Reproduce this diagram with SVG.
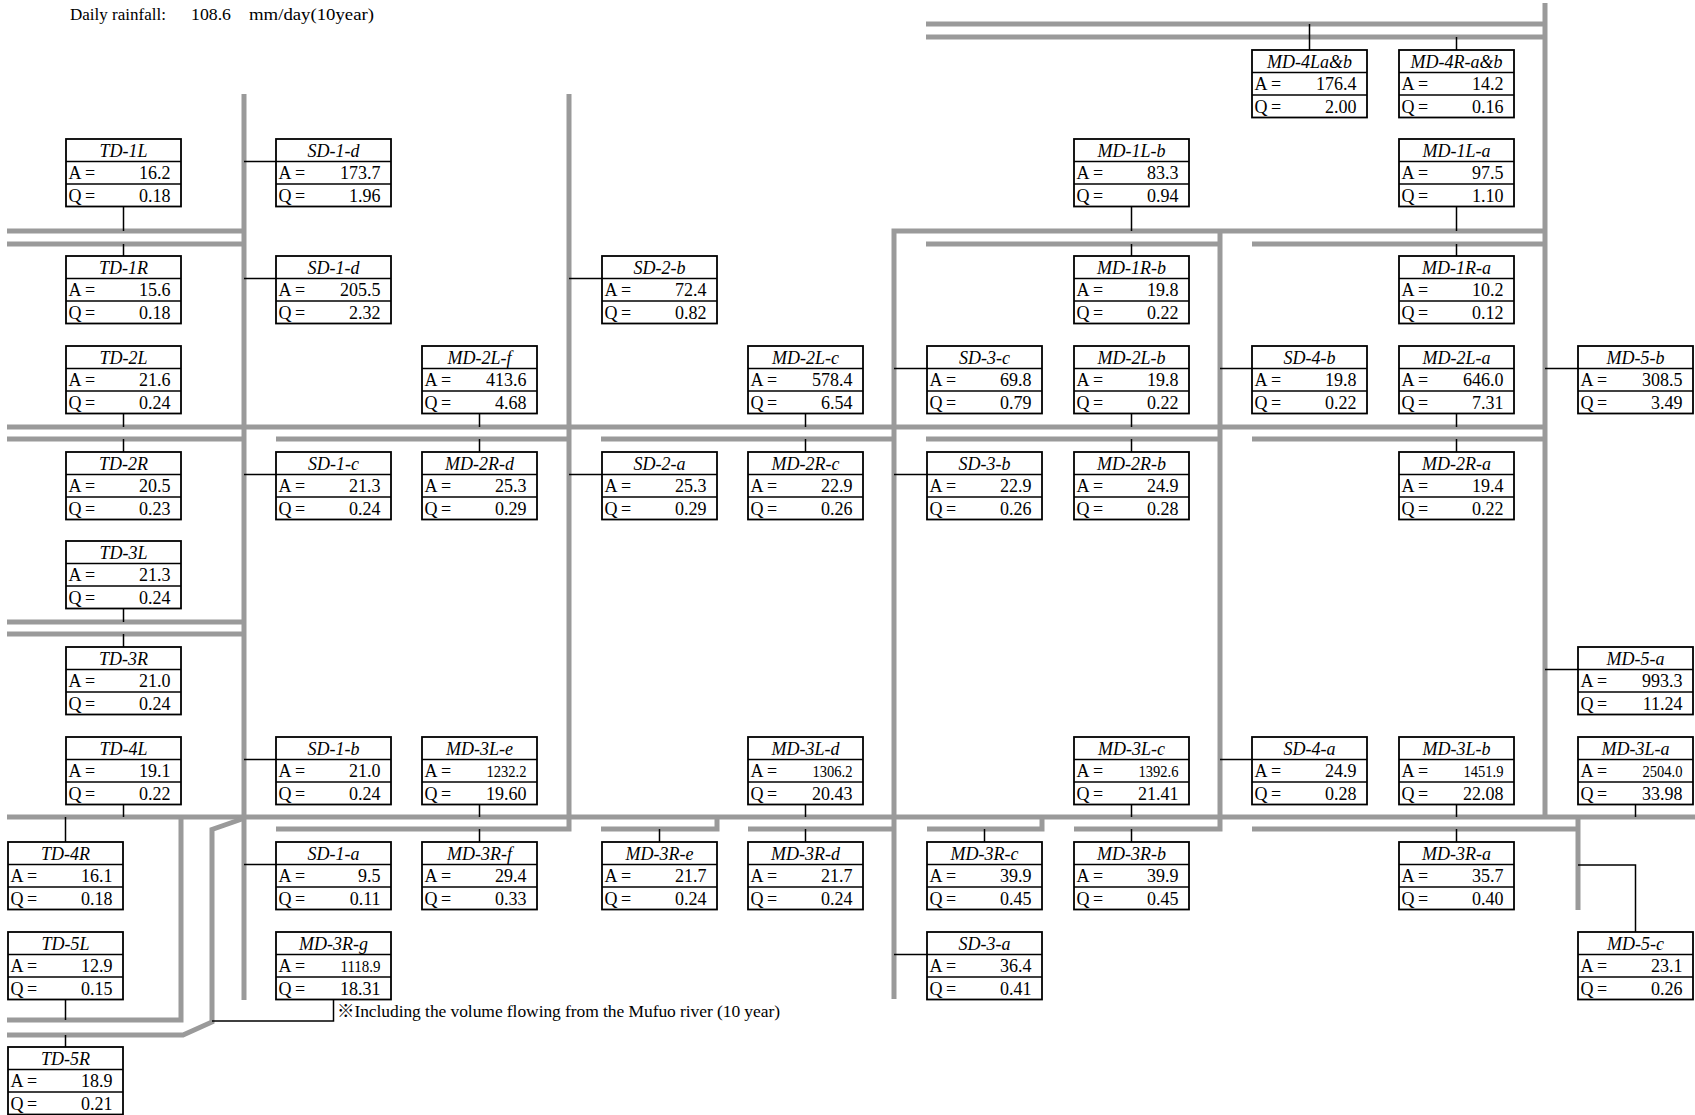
<svg xmlns="http://www.w3.org/2000/svg" xmlns:xlink="http://www.w3.org/1999/xlink" width="1695" height="1115" viewBox="0 0 1695 1115">
<style>
text{font-family:"Liberation Serif","Times New Roman","Noto Sans CJK JP",serif;fill:#000}
.h{font-size:18px;font-style:italic;text-anchor:middle}
.l{font-size:18px}
.v{font-size:18px;text-anchor:end}
.s{font-size:16px;text-anchor:end}
.t{font-size:17.5px}
.gray{fill:none;stroke:#9a9a9a;stroke-width:5;stroke-linejoin:miter;stroke-linecap:butt}
.conn{fill:none;stroke:#000;stroke-width:1.5}
.frame rect{fill:#fff;stroke:#000;stroke-width:1.8}
.frame line{stroke:#000;stroke-width:1.6}
</style>
<defs>
<g id="box" class="frame"><rect x="0" y="0" width="115" height="67.5"/><line x1="0" y1="22.5" x2="115" y2="22.5"/><line x1="0" y1="45" x2="115" y2="45"/></g>
</defs>
<rect width="1695" height="1115" fill="#fff"/>
<g id="title">
<text class="t" x="70" y="19.5" textLength="96" lengthAdjust="spacingAndGlyphs">Daily rainfall:</text>
<text class="t" x="191" y="19.5" textLength="40" lengthAdjust="spacingAndGlyphs">108.6</text>
<text class="t" x="249" y="19.5" textLength="125" lengthAdjust="spacingAndGlyphs">mm/day(10year)</text>
</g>
<g id="connectors">
<g class="gray">
<path d="M926,24H1545M926,37H1545M1545,3V817"/>
<path d="M244,94V1000M569,94V829H276"/>
<path d="M7,231H244M7,244H244"/>
<path d="M894,999V231H1545M926,244H1220M1220,231V829H1074M1252,244H1545"/>
<path d="M7,427H1545"/>
<path d="M7,439H244M276,439H569M601,439H894M926,439H1220M1252,439H1545"/>
<path d="M7,622H244M7,634H244"/>
<path d="M7,817H1695"/>
<path d="M7,1020H181V817"/>
<path d="M242,819L212,829.5V1022L183,1035H7"/>
<path d="M601,829H717V817M748,829H894M927,829H1042V817M1252,829H1578M1578,817V910"/>
</g>
<g class="conn">
<path d="M123.5,206.5V231M123.5,244V256M123.5,413.5V427M123.5,439V452M123.5,608.5V622M123.5,634V647M123.5,804.5V817"/>
<path d="M65.5,817V842M65.5,999.5V1020M65.5,1035V1047"/>
<path d="M244,161.5H276M244,278.5H276M244,474.5H276M244,759.5H276M244,864.5H276"/>
<path d="M333.5,999.5V1021H212"/>
<path d="M479.5,413.5V427M479.5,439V452M479.5,804.5V817M479.5,829V842"/>
<path d="M569,278.5H602M569,474.5H602M659.5,829V842"/>
<path d="M805.5,413.5V427M805.5,439V452M805.5,804.5V817M805.5,829V842"/>
<path d="M894,368.5H927M894,474.5H927M894,954.5H927M984.5,829V842"/>
<path d="M1131.5,206.5V231M1131.5,244V256M1131.5,413.5V427M1131.5,439V452M1131.5,804.5V817M1131.5,829V842"/>
<path d="M1309.5,24V50M1220,368.5H1252M1220,759.5H1252"/>
<path d="M1456.5,37V50M1456.5,206.5V231M1456.5,244V256M1456.5,413.5V427M1456.5,439V452M1456.5,804.5V817M1456.5,829V842"/>
<path d="M1545,368.5H1578M1545,669.5H1578M1635.5,804.5V817M1578,865H1635.5V932"/>
</g>
</g>
<g id="TD-1L" transform="translate(66,139)"><use xlink:href="#box"/><text class="h" x="57.5" y="17.5">TD-1L</text><text class="l" x="2.5" y="40">A =</text><text class="v" x="104.5" y="40">16.2</text><text class="l" x="2.5" y="62.5">Q<tspan x="19">=</tspan></text><text class="v" x="104.5" y="62.5">0.18</text></g>
<g id="TD-1R" transform="translate(66,256)"><use xlink:href="#box"/><text class="h" x="57.5" y="17.5">TD-1R</text><text class="l" x="2.5" y="40">A =</text><text class="v" x="104.5" y="40">15.6</text><text class="l" x="2.5" y="62.5">Q<tspan x="19">=</tspan></text><text class="v" x="104.5" y="62.5">0.18</text></g>
<g id="TD-2L" transform="translate(66,346)"><use xlink:href="#box"/><text class="h" x="57.5" y="17.5">TD-2L</text><text class="l" x="2.5" y="40">A =</text><text class="v" x="104.5" y="40">21.6</text><text class="l" x="2.5" y="62.5">Q<tspan x="19">=</tspan></text><text class="v" x="104.5" y="62.5">0.24</text></g>
<g id="TD-2R" transform="translate(66,452)"><use xlink:href="#box"/><text class="h" x="57.5" y="17.5">TD-2R</text><text class="l" x="2.5" y="40">A =</text><text class="v" x="104.5" y="40">20.5</text><text class="l" x="2.5" y="62.5">Q<tspan x="19">=</tspan></text><text class="v" x="104.5" y="62.5">0.23</text></g>
<g id="TD-3L" transform="translate(66,541)"><use xlink:href="#box"/><text class="h" x="57.5" y="17.5">TD-3L</text><text class="l" x="2.5" y="40">A =</text><text class="v" x="104.5" y="40">21.3</text><text class="l" x="2.5" y="62.5">Q<tspan x="19">=</tspan></text><text class="v" x="104.5" y="62.5">0.24</text></g>
<g id="TD-3R" transform="translate(66,647)"><use xlink:href="#box"/><text class="h" x="57.5" y="17.5">TD-3R</text><text class="l" x="2.5" y="40">A =</text><text class="v" x="104.5" y="40">21.0</text><text class="l" x="2.5" y="62.5">Q<tspan x="19">=</tspan></text><text class="v" x="104.5" y="62.5">0.24</text></g>
<g id="TD-4L" transform="translate(66,737)"><use xlink:href="#box"/><text class="h" x="57.5" y="17.5">TD-4L</text><text class="l" x="2.5" y="40">A =</text><text class="v" x="104.5" y="40">19.1</text><text class="l" x="2.5" y="62.5">Q<tspan x="19">=</tspan></text><text class="v" x="104.5" y="62.5">0.22</text></g>
<g id="TD-4R" transform="translate(8,842)"><use xlink:href="#box"/><text class="h" x="57.5" y="17.5">TD-4R</text><text class="l" x="2.5" y="40">A =</text><text class="v" x="104.5" y="40">16.1</text><text class="l" x="2.5" y="62.5">Q<tspan x="19">=</tspan></text><text class="v" x="104.5" y="62.5">0.18</text></g>
<g id="TD-5L" transform="translate(8,932)"><use xlink:href="#box"/><text class="h" x="57.5" y="17.5">TD-5L</text><text class="l" x="2.5" y="40">A =</text><text class="v" x="104.5" y="40">12.9</text><text class="l" x="2.5" y="62.5">Q<tspan x="19">=</tspan></text><text class="v" x="104.5" y="62.5">0.15</text></g>
<g id="TD-5R" transform="translate(8,1047)"><use xlink:href="#box"/><text class="h" x="57.5" y="17.5">TD-5R</text><text class="l" x="2.5" y="40">A =</text><text class="v" x="104.5" y="40">18.9</text><text class="l" x="2.5" y="62.5">Q<tspan x="19">=</tspan></text><text class="v" x="104.5" y="62.5">0.21</text></g>
<g id="SD-1-d-1" transform="translate(276,139)"><use xlink:href="#box"/><text class="h" x="57.5" y="17.5">SD-1-d</text><text class="l" x="2.5" y="40">A =</text><text class="v" x="104.5" y="40">173.7</text><text class="l" x="2.5" y="62.5">Q<tspan x="19">=</tspan></text><text class="v" x="104.5" y="62.5">1.96</text></g>
<g id="SD-1-d-2" transform="translate(276,256)"><use xlink:href="#box"/><text class="h" x="57.5" y="17.5">SD-1-d</text><text class="l" x="2.5" y="40">A =</text><text class="v" x="104.5" y="40">205.5</text><text class="l" x="2.5" y="62.5">Q<tspan x="19">=</tspan></text><text class="v" x="104.5" y="62.5">2.32</text></g>
<g id="SD-1-c" transform="translate(276,452)"><use xlink:href="#box"/><text class="h" x="57.5" y="17.5">SD-1-c</text><text class="l" x="2.5" y="40">A =</text><text class="v" x="104.5" y="40">21.3</text><text class="l" x="2.5" y="62.5">Q<tspan x="19">=</tspan></text><text class="v" x="104.5" y="62.5">0.24</text></g>
<g id="SD-1-b" transform="translate(276,737)"><use xlink:href="#box"/><text class="h" x="57.5" y="17.5">SD-1-b</text><text class="l" x="2.5" y="40">A =</text><text class="v" x="104.5" y="40">21.0</text><text class="l" x="2.5" y="62.5">Q<tspan x="19">=</tspan></text><text class="v" x="104.5" y="62.5">0.24</text></g>
<g id="SD-1-a" transform="translate(276,842)"><use xlink:href="#box"/><text class="h" x="57.5" y="17.5">SD-1-a</text><text class="l" x="2.5" y="40">A =</text><text class="v" x="104.5" y="40">9.5</text><text class="l" x="2.5" y="62.5">Q<tspan x="19">=</tspan></text><text class="v" x="104.5" y="62.5">0.11</text></g>
<g id="MD-3R-g" transform="translate(276,932)"><use xlink:href="#box"/><text class="h" x="57.5" y="17.5">MD-3R-g</text><text class="l" x="2.5" y="40">A =</text><text class="s" x="104.5" y="40" textLength="40" lengthAdjust="spacingAndGlyphs">1118.9</text><text class="l" x="2.5" y="62.5">Q<tspan x="19">=</tspan></text><text class="v" x="104.5" y="62.5">18.31</text></g>
<g id="MD-2L-f" transform="translate(422,346)"><use xlink:href="#box"/><text class="h" x="57.5" y="17.5">MD-2L-f</text><text class="l" x="2.5" y="40">A =</text><text class="v" x="104.5" y="40">413.6</text><text class="l" x="2.5" y="62.5">Q<tspan x="19">=</tspan></text><text class="v" x="104.5" y="62.5">4.68</text></g>
<g id="MD-2R-d" transform="translate(422,452)"><use xlink:href="#box"/><text class="h" x="57.5" y="17.5">MD-2R-d</text><text class="l" x="2.5" y="40">A =</text><text class="v" x="104.5" y="40">25.3</text><text class="l" x="2.5" y="62.5">Q<tspan x="19">=</tspan></text><text class="v" x="104.5" y="62.5">0.29</text></g>
<g id="MD-3L-e" transform="translate(422,737)"><use xlink:href="#box"/><text class="h" x="57.5" y="17.5">MD-3L-e</text><text class="l" x="2.5" y="40">A =</text><text class="s" x="104.5" y="40" textLength="40" lengthAdjust="spacingAndGlyphs">1232.2</text><text class="l" x="2.5" y="62.5">Q<tspan x="19">=</tspan></text><text class="v" x="104.5" y="62.5">19.60</text></g>
<g id="MD-3R-f" transform="translate(422,842)"><use xlink:href="#box"/><text class="h" x="57.5" y="17.5">MD-3R-f</text><text class="l" x="2.5" y="40">A =</text><text class="v" x="104.5" y="40">29.4</text><text class="l" x="2.5" y="62.5">Q<tspan x="19">=</tspan></text><text class="v" x="104.5" y="62.5">0.33</text></g>
<g id="SD-2-b" transform="translate(602,256)"><use xlink:href="#box"/><text class="h" x="57.5" y="17.5">SD-2-b</text><text class="l" x="2.5" y="40">A =</text><text class="v" x="104.5" y="40">72.4</text><text class="l" x="2.5" y="62.5">Q<tspan x="19">=</tspan></text><text class="v" x="104.5" y="62.5">0.82</text></g>
<g id="SD-2-a" transform="translate(602,452)"><use xlink:href="#box"/><text class="h" x="57.5" y="17.5">SD-2-a</text><text class="l" x="2.5" y="40">A =</text><text class="v" x="104.5" y="40">25.3</text><text class="l" x="2.5" y="62.5">Q<tspan x="19">=</tspan></text><text class="v" x="104.5" y="62.5">0.29</text></g>
<g id="MD-3R-e" transform="translate(602,842)"><use xlink:href="#box"/><text class="h" x="57.5" y="17.5">MD-3R-e</text><text class="l" x="2.5" y="40">A =</text><text class="v" x="104.5" y="40">21.7</text><text class="l" x="2.5" y="62.5">Q<tspan x="19">=</tspan></text><text class="v" x="104.5" y="62.5">0.24</text></g>
<g id="MD-2L-c" transform="translate(748,346)"><use xlink:href="#box"/><text class="h" x="57.5" y="17.5">MD-2L-c</text><text class="l" x="2.5" y="40">A =</text><text class="v" x="104.5" y="40">578.4</text><text class="l" x="2.5" y="62.5">Q<tspan x="19">=</tspan></text><text class="v" x="104.5" y="62.5">6.54</text></g>
<g id="MD-2R-c" transform="translate(748,452)"><use xlink:href="#box"/><text class="h" x="57.5" y="17.5">MD-2R-c</text><text class="l" x="2.5" y="40">A =</text><text class="v" x="104.5" y="40">22.9</text><text class="l" x="2.5" y="62.5">Q<tspan x="19">=</tspan></text><text class="v" x="104.5" y="62.5">0.26</text></g>
<g id="MD-3L-d" transform="translate(748,737)"><use xlink:href="#box"/><text class="h" x="57.5" y="17.5">MD-3L-d</text><text class="l" x="2.5" y="40">A =</text><text class="s" x="104.5" y="40" textLength="40" lengthAdjust="spacingAndGlyphs">1306.2</text><text class="l" x="2.5" y="62.5">Q<tspan x="19">=</tspan></text><text class="v" x="104.5" y="62.5">20.43</text></g>
<g id="MD-3R-d" transform="translate(748,842)"><use xlink:href="#box"/><text class="h" x="57.5" y="17.5">MD-3R-d</text><text class="l" x="2.5" y="40">A =</text><text class="v" x="104.5" y="40">21.7</text><text class="l" x="2.5" y="62.5">Q<tspan x="19">=</tspan></text><text class="v" x="104.5" y="62.5">0.24</text></g>
<g id="SD-3-c" transform="translate(927,346)"><use xlink:href="#box"/><text class="h" x="57.5" y="17.5">SD-3-c</text><text class="l" x="2.5" y="40">A =</text><text class="v" x="104.5" y="40">69.8</text><text class="l" x="2.5" y="62.5">Q<tspan x="19">=</tspan></text><text class="v" x="104.5" y="62.5">0.79</text></g>
<g id="SD-3-b" transform="translate(927,452)"><use xlink:href="#box"/><text class="h" x="57.5" y="17.5">SD-3-b</text><text class="l" x="2.5" y="40">A =</text><text class="v" x="104.5" y="40">22.9</text><text class="l" x="2.5" y="62.5">Q<tspan x="19">=</tspan></text><text class="v" x="104.5" y="62.5">0.26</text></g>
<g id="MD-3R-c" transform="translate(927,842)"><use xlink:href="#box"/><text class="h" x="57.5" y="17.5">MD-3R-c</text><text class="l" x="2.5" y="40">A =</text><text class="v" x="104.5" y="40">39.9</text><text class="l" x="2.5" y="62.5">Q<tspan x="19">=</tspan></text><text class="v" x="104.5" y="62.5">0.45</text></g>
<g id="SD-3-a" transform="translate(927,932)"><use xlink:href="#box"/><text class="h" x="57.5" y="17.5">SD-3-a</text><text class="l" x="2.5" y="40">A =</text><text class="v" x="104.5" y="40">36.4</text><text class="l" x="2.5" y="62.5">Q<tspan x="19">=</tspan></text><text class="v" x="104.5" y="62.5">0.41</text></g>
<g id="MD-1L-b" transform="translate(1074,139)"><use xlink:href="#box"/><text class="h" x="57.5" y="17.5">MD-1L-b</text><text class="l" x="2.5" y="40">A =</text><text class="v" x="104.5" y="40">83.3</text><text class="l" x="2.5" y="62.5">Q<tspan x="19">=</tspan></text><text class="v" x="104.5" y="62.5">0.94</text></g>
<g id="MD-1R-b" transform="translate(1074,256)"><use xlink:href="#box"/><text class="h" x="57.5" y="17.5">MD-1R-b</text><text class="l" x="2.5" y="40">A =</text><text class="v" x="104.5" y="40">19.8</text><text class="l" x="2.5" y="62.5">Q<tspan x="19">=</tspan></text><text class="v" x="104.5" y="62.5">0.22</text></g>
<g id="MD-2L-b" transform="translate(1074,346)"><use xlink:href="#box"/><text class="h" x="57.5" y="17.5">MD-2L-b</text><text class="l" x="2.5" y="40">A =</text><text class="v" x="104.5" y="40">19.8</text><text class="l" x="2.5" y="62.5">Q<tspan x="19">=</tspan></text><text class="v" x="104.5" y="62.5">0.22</text></g>
<g id="MD-2R-b" transform="translate(1074,452)"><use xlink:href="#box"/><text class="h" x="57.5" y="17.5">MD-2R-b</text><text class="l" x="2.5" y="40">A =</text><text class="v" x="104.5" y="40">24.9</text><text class="l" x="2.5" y="62.5">Q<tspan x="19">=</tspan></text><text class="v" x="104.5" y="62.5">0.28</text></g>
<g id="MD-3L-c" transform="translate(1074,737)"><use xlink:href="#box"/><text class="h" x="57.5" y="17.5">MD-3L-c</text><text class="l" x="2.5" y="40">A =</text><text class="s" x="104.5" y="40" textLength="40" lengthAdjust="spacingAndGlyphs">1392.6</text><text class="l" x="2.5" y="62.5">Q<tspan x="19">=</tspan></text><text class="v" x="104.5" y="62.5">21.41</text></g>
<g id="MD-3R-b" transform="translate(1074,842)"><use xlink:href="#box"/><text class="h" x="57.5" y="17.5">MD-3R-b</text><text class="l" x="2.5" y="40">A =</text><text class="v" x="104.5" y="40">39.9</text><text class="l" x="2.5" y="62.5">Q<tspan x="19">=</tspan></text><text class="v" x="104.5" y="62.5">0.45</text></g>
<g id="MD-4La-b" transform="translate(1252,50)"><use xlink:href="#box"/><text class="h" x="57.5" y="17.5">MD-4La&amp;b</text><text class="l" x="2.5" y="40">A =</text><text class="v" x="104.5" y="40">176.4</text><text class="l" x="2.5" y="62.5">Q<tspan x="19">=</tspan></text><text class="v" x="104.5" y="62.5">2.00</text></g>
<g id="SD-4-b" transform="translate(1252,346)"><use xlink:href="#box"/><text class="h" x="57.5" y="17.5">SD-4-b</text><text class="l" x="2.5" y="40">A =</text><text class="v" x="104.5" y="40">19.8</text><text class="l" x="2.5" y="62.5">Q<tspan x="19">=</tspan></text><text class="v" x="104.5" y="62.5">0.22</text></g>
<g id="SD-4-a" transform="translate(1252,737)"><use xlink:href="#box"/><text class="h" x="57.5" y="17.5">SD-4-a</text><text class="l" x="2.5" y="40">A =</text><text class="v" x="104.5" y="40">24.9</text><text class="l" x="2.5" y="62.5">Q<tspan x="19">=</tspan></text><text class="v" x="104.5" y="62.5">0.28</text></g>
<g id="MD-4R-a-b" transform="translate(1399,50)"><use xlink:href="#box"/><text class="h" x="57.5" y="17.5">MD-4R-a&amp;b</text><text class="l" x="2.5" y="40">A =</text><text class="v" x="104.5" y="40">14.2</text><text class="l" x="2.5" y="62.5">Q<tspan x="19">=</tspan></text><text class="v" x="104.5" y="62.5">0.16</text></g>
<g id="MD-1L-a" transform="translate(1399,139)"><use xlink:href="#box"/><text class="h" x="57.5" y="17.5">MD-1L-a</text><text class="l" x="2.5" y="40">A =</text><text class="v" x="104.5" y="40">97.5</text><text class="l" x="2.5" y="62.5">Q<tspan x="19">=</tspan></text><text class="v" x="104.5" y="62.5">1.10</text></g>
<g id="MD-1R-a" transform="translate(1399,256)"><use xlink:href="#box"/><text class="h" x="57.5" y="17.5">MD-1R-a</text><text class="l" x="2.5" y="40">A =</text><text class="v" x="104.5" y="40">10.2</text><text class="l" x="2.5" y="62.5">Q<tspan x="19">=</tspan></text><text class="v" x="104.5" y="62.5">0.12</text></g>
<g id="MD-2L-a" transform="translate(1399,346)"><use xlink:href="#box"/><text class="h" x="57.5" y="17.5">MD-2L-a</text><text class="l" x="2.5" y="40">A =</text><text class="v" x="104.5" y="40">646.0</text><text class="l" x="2.5" y="62.5">Q<tspan x="19">=</tspan></text><text class="v" x="104.5" y="62.5">7.31</text></g>
<g id="MD-2R-a" transform="translate(1399,452)"><use xlink:href="#box"/><text class="h" x="57.5" y="17.5">MD-2R-a</text><text class="l" x="2.5" y="40">A =</text><text class="v" x="104.5" y="40">19.4</text><text class="l" x="2.5" y="62.5">Q<tspan x="19">=</tspan></text><text class="v" x="104.5" y="62.5">0.22</text></g>
<g id="MD-3L-b" transform="translate(1399,737)"><use xlink:href="#box"/><text class="h" x="57.5" y="17.5">MD-3L-b</text><text class="l" x="2.5" y="40">A =</text><text class="s" x="104.5" y="40" textLength="40" lengthAdjust="spacingAndGlyphs">1451.9</text><text class="l" x="2.5" y="62.5">Q<tspan x="19">=</tspan></text><text class="v" x="104.5" y="62.5">22.08</text></g>
<g id="MD-3R-a" transform="translate(1399,842)"><use xlink:href="#box"/><text class="h" x="57.5" y="17.5">MD-3R-a</text><text class="l" x="2.5" y="40">A =</text><text class="v" x="104.5" y="40">35.7</text><text class="l" x="2.5" y="62.5">Q<tspan x="19">=</tspan></text><text class="v" x="104.5" y="62.5">0.40</text></g>
<g id="MD-5-b" transform="translate(1578,346)"><use xlink:href="#box"/><text class="h" x="57.5" y="17.5">MD-5-b</text><text class="l" x="2.5" y="40">A =</text><text class="v" x="104.5" y="40">308.5</text><text class="l" x="2.5" y="62.5">Q<tspan x="19">=</tspan></text><text class="v" x="104.5" y="62.5">3.49</text></g>
<g id="MD-5-a" transform="translate(1578,647)"><use xlink:href="#box"/><text class="h" x="57.5" y="17.5">MD-5-a</text><text class="l" x="2.5" y="40">A =</text><text class="v" x="104.5" y="40">993.3</text><text class="l" x="2.5" y="62.5">Q<tspan x="19">=</tspan></text><text class="v" x="104.5" y="62.5">11.24</text></g>
<g id="MD-3L-a" transform="translate(1578,737)"><use xlink:href="#box"/><text class="h" x="57.5" y="17.5">MD-3L-a</text><text class="l" x="2.5" y="40">A =</text><text class="s" x="104.5" y="40" textLength="40" lengthAdjust="spacingAndGlyphs">2504.0</text><text class="l" x="2.5" y="62.5">Q<tspan x="19">=</tspan></text><text class="v" x="104.5" y="62.5">33.98</text></g>
<g id="MD-5-c" transform="translate(1578,932)"><use xlink:href="#box"/><text class="h" x="57.5" y="17.5">MD-5-c</text><text class="l" x="2.5" y="40">A =</text><text class="v" x="104.5" y="40">23.1</text><text class="l" x="2.5" y="62.5">Q<tspan x="19">=</tspan></text><text class="v" x="104.5" y="62.5">0.26</text></g>
<g id="note">
<text class="t" x="337" y="1017" textLength="443" lengthAdjust="spacing">※Including the volume flowing from the Mufuo river (10 year)</text>
</g>
</svg>
